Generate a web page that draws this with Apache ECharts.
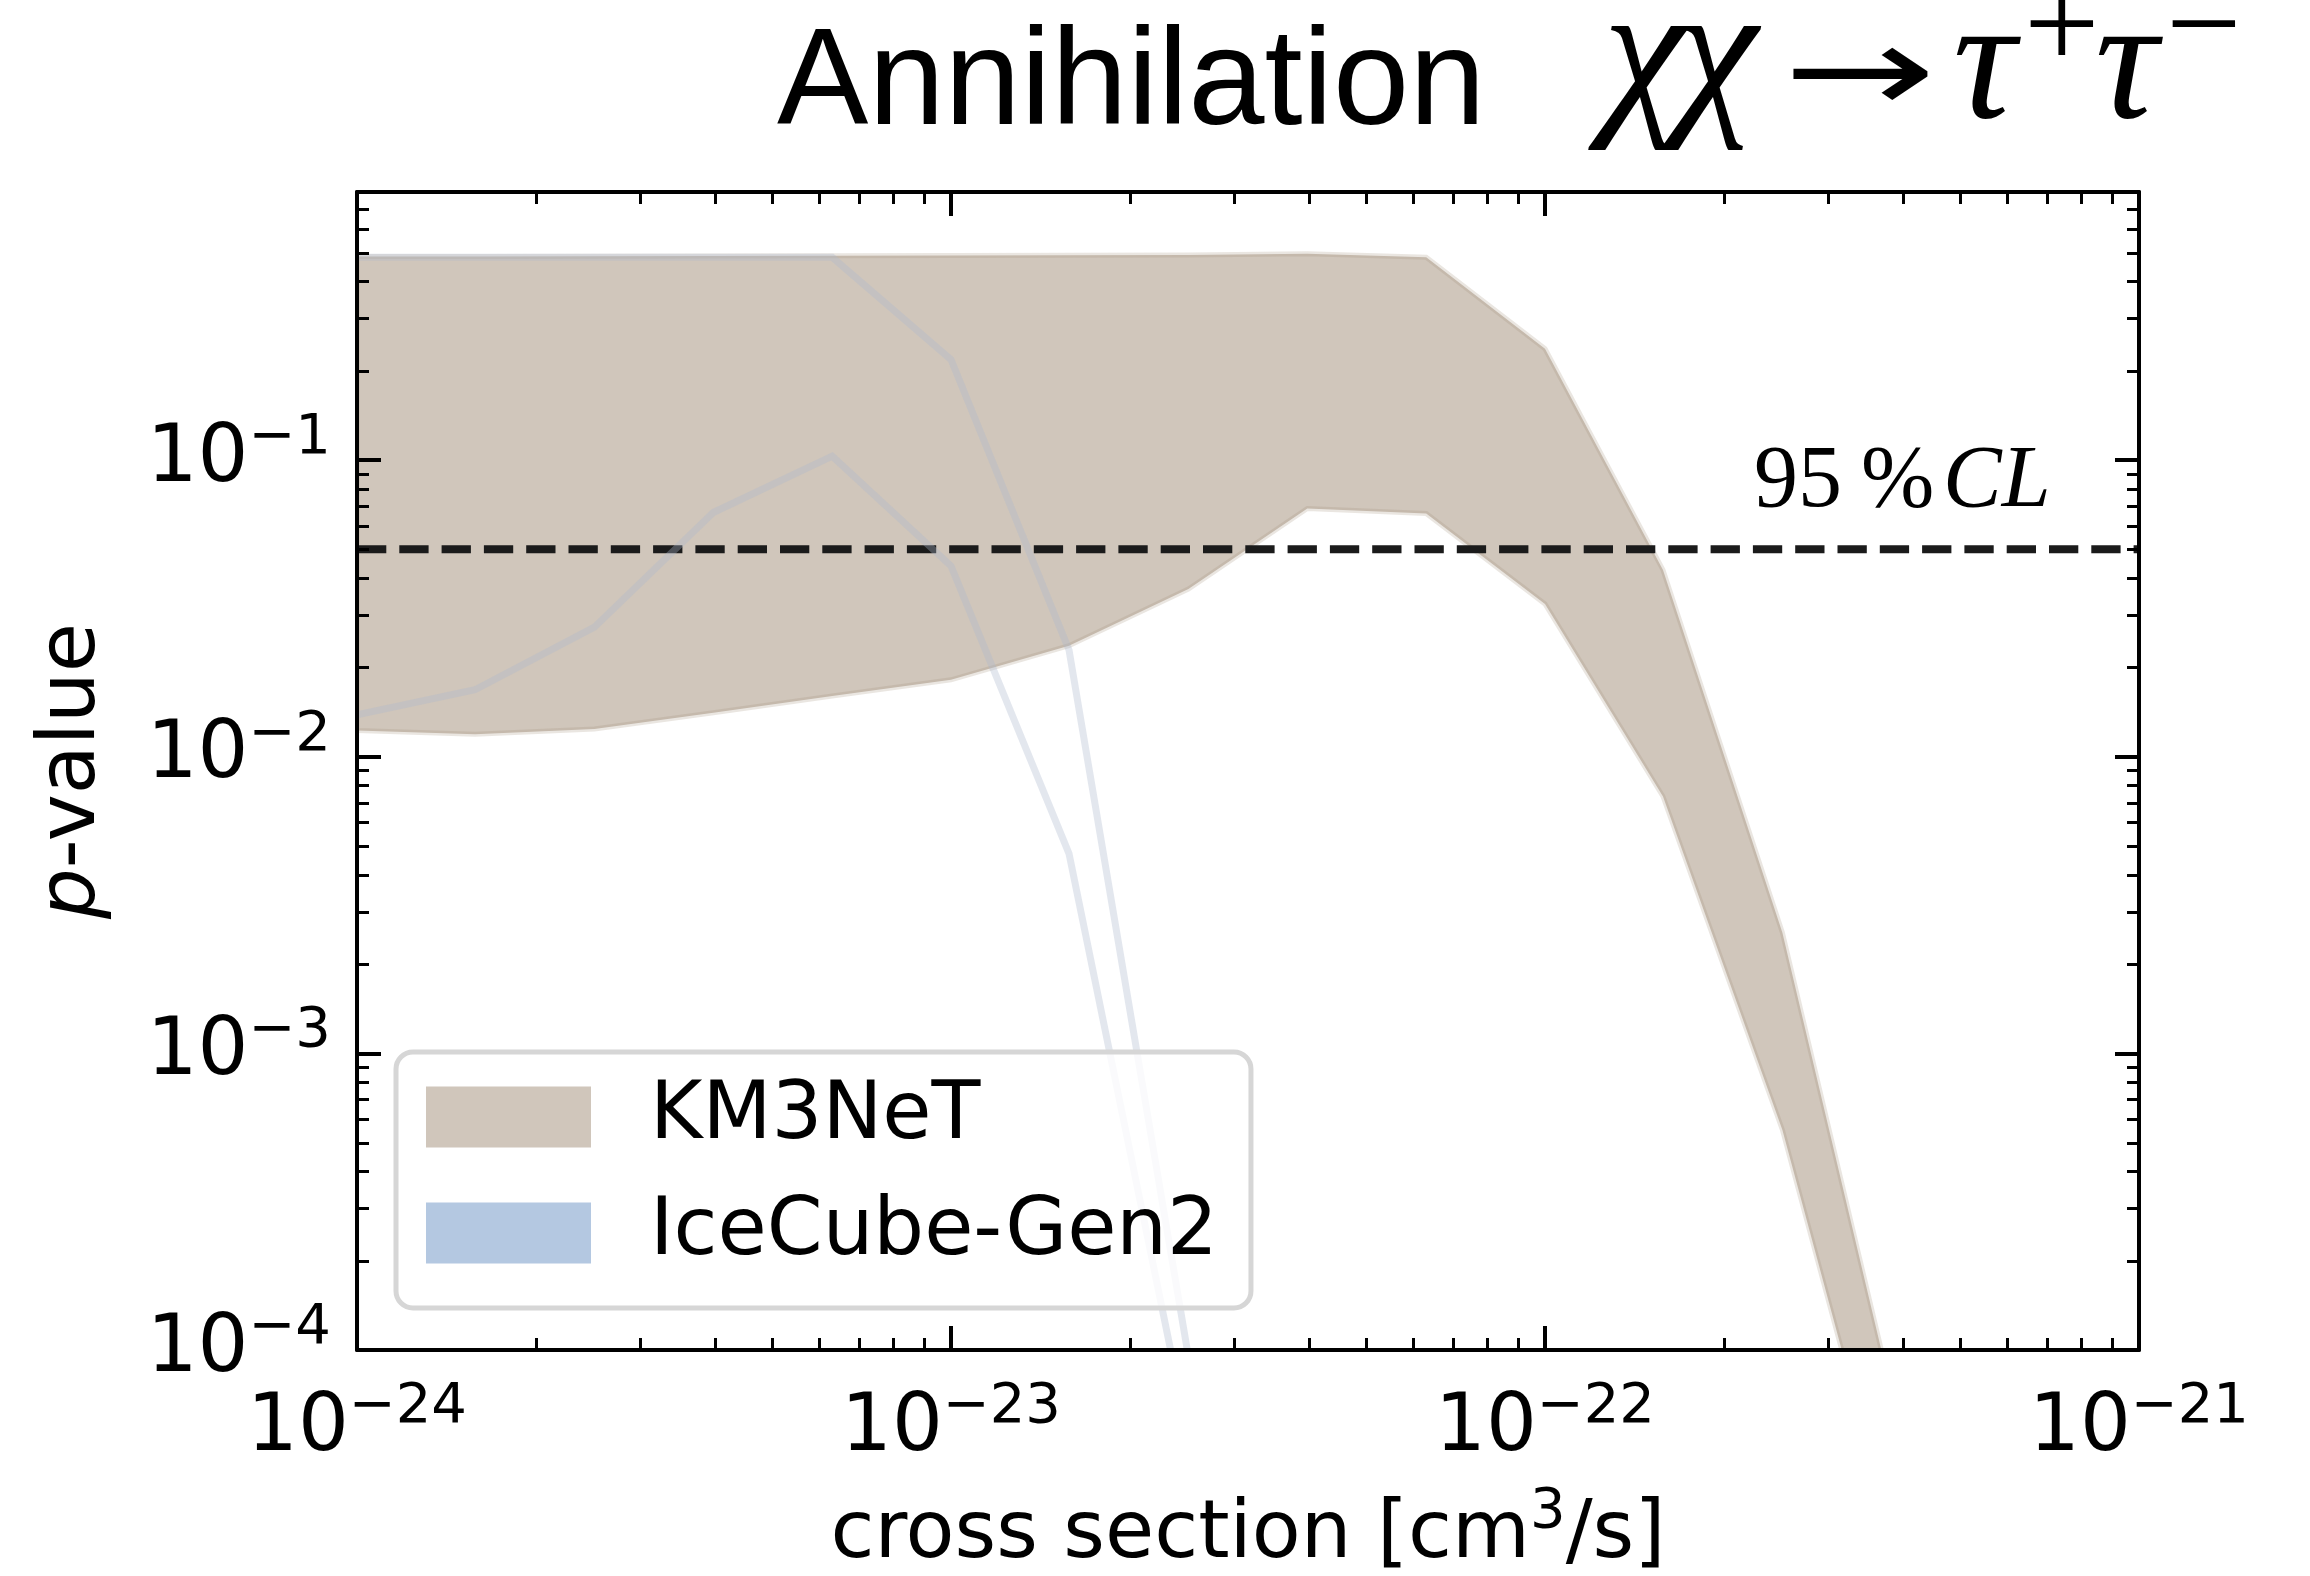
<!DOCTYPE html>
<html><head><meta charset="utf-8">
<script src="https://cdn.jsdelivr.net/npm/echarts@6/dist/echarts.min.js"></script>
<style>html,body{margin:0;padding:0;background:#fff}#chart{width:2310px;height:1576px}</style>
</head><body><div id="chart"></div>
<script>
// ---- data ----
const crossSection = [1.0e-24, 1.58e-24, 2.51e-24, 3.98e-24, 6.31e-24, 1.0e-23, 1.58e-23, 2.51e-23, 3.98e-23, 6.31e-23, 1.0e-22, 1.58e-22, 2.51e-22, 3.98e-22];
const km3netUpper = [0.485, 0.485, 0.486, 0.487, 0.488, 0.489, 0.490, 0.491, 0.495, 0.482, 0.237, 0.0426, 0.00255, 0.000052];
const km3netLower = [0.01225, 0.0119, 0.0124, 0.01406, 0.0160, 0.01815, 0.02366, 0.0367, 0.0686, 0.066, 0.0327, 0.00734, 0.000552, 0.000018];
const icecubeCrossSection = [1.0e-24, 1.58e-24, 2.51e-24, 3.98e-24, 6.31e-24, 1.0e-23, 1.58e-23, 2.51e-23];
const icecubeUpper = [0.482, 0.482, 0.482, 0.482, 0.482, 0.218, 0.0229, 0.000095];
const icecubeLower = [0.01384, 0.0168, 0.0273, 0.0665, 0.103, 0.0439, 0.00471, 0.000051];
const clLevel = 0.05;
const xRange = [1e-24, 1e-21];
const yRange = [1e-4, 0.8];
const xTickExponents = [-24, -23, -22, -21];
const yTickExponents = [-4, -3, -2, -1];
const minorMultipliers = [2, 3, 4, 5, 6, 7, 8, 9];

const KM3_FILL = '#d0c6bb';
const ICE_COLOR = '#b4c8e1';

function minorTicks(lo, hi) {
  const out = [];
  for (let d = Math.floor(Math.log10(lo)); d <= Math.ceil(Math.log10(hi)); d++) {
    minorMultipliers.forEach(m => { const v = m * Math.pow(10, d); if (v > lo * 1.0001 && v < hi * 0.9999) out.push(v); });
  }
  return out;
}
const xMinor = minorTicks(xRange[0], xRange[1]);
const yMinor = minorTicks(yRange[0], yRange[1]);

function powerText(r) { return '{b|10}{s|' + (r < 0 ? '\u2212' : '') + Math.abs(r) + '}'; }
function expLabel(list) {
  return function (v) {
    const e = Math.log10(v);
    const r = Math.round(e);
    if (Math.abs(e - r) > 1e-6 || list.indexOf(r) < 0) return '';
    return powerText(r);
  };
}
const tickRich = {
  b: { fontFamily: 'DejaVu Sans', fontSize: 80, lineHeight: 50, color: '#000', fill: '#000' },
  s: { fontFamily: 'DejaVu Sans', fontSize: 56, lineHeight: 7, padding: [0, 0, 43, 0], color: '#000', fill: '#000' }
};
const axisCommon = {
  type: 'log', logBase: 10,
  axisLine: { show: true, onZero: false, lineStyle: { color: '#000', width: 4 } },
  axisTick: { show: true, inside: true, length: 24, lineStyle: { color: '#000', width: 4 } },
  minorTick: { show: false }, splitLine: { show: false }, minorSplitLine: { show: false },
  nameMoveOverlap: false,
  z: 10
};

function clipGroup(params, children) {
  const cs = params.coordSys;
  return { type: 'group', clipPath: { type: 'rect', shape: { x: cs.x, y: cs.y, width: cs.width, height: cs.height } }, children: children };
}
function txt(x, y, text, family, size, italic, sx) {
  return { type: 'text', x: x, y: y, z: 30, scaleX: sx || 1, style: { text: text, fontFamily: family, fontSize: size, fontStyle: italic ? 'italic' : 'normal', fill: '#000',
    align: 'left', verticalAlign: 'middle', textAlign: 'left', textVerticalAlign: 'middle' } };
}

const chart = echarts.init(document.getElementById('chart'), null, { renderer: 'canvas' });
chart.setOption({
  backgroundColor: '#ffffff',
  animation: false,
  grid: { left: 357, top: 192, width: 1782, height: 1158, containLabel: false, outerBoundsMode: 'none' },
  xAxis: [
    Object.assign({}, axisCommon, {
      position: 'bottom', min: xRange[0], max: xRange[1],
      axisLabel: { show: false },
      name: '{t|cross section [cm}{s|3}{t|/s]}', nameLocation: 'middle', nameGap: 146,
      nameTextStyle: { rich: {
        t: { fontFamily: 'DejaVu Sans', fontSize: 80, lineHeight: 80, color: '#000' },
        s: { fontFamily: 'DejaVu Sans', fontSize: 56, lineHeight: 56, padding: [0, 0, 47, 0], color: '#000' } } }
    }),
    Object.assign({}, axisCommon, { position: 'top', min: xRange[0], max: xRange[1], axisLabel: { show: false } })
  ],
  yAxis: [
    Object.assign({}, axisCommon, {
      position: 'left', min: yRange[0], max: yRange[1],
      axisLabel: { margin: 26, formatter: expLabel(yTickExponents), rich: tickRich, showMinLabel: true, showMaxLabel: false, hideOverlap: false },
      name: '{i|p}{n|-value}', nameLocation: 'middle', nameRotate: 90, nameGap: 244,
      nameTextStyle: { rich: {
        i: { fontFamily: 'DejaVu Sans', fontStyle: 'italic', fontSize: 80, lineHeight: 80, color: '#000' },
        n: { fontFamily: 'DejaVu Sans', fontSize: 80, lineHeight: 80, color: '#000' } } }
    }),
    Object.assign({}, axisCommon, { position: 'right', min: yRange[0], max: yRange[1], axisLabel: { show: false } })
  ],
  legend: {
    orient: 'vertical', left: 396, top: 1052,
    padding: [25, 33, 35, 30],
    itemWidth: 165, itemHeight: 61, itemGap: 36,
    backgroundColor: 'rgba(255,255,255,0.8)', borderColor: '#d6d6d6', borderWidth: 5, borderRadius: 17,
    formatter: '{n|{name}}',
    textStyle: { color: '#000', rich: { n: { fontFamily: 'DejaVu Sans', fontSize: 80, lineHeight: 61, color: '#000', padding: [0, 0, 0, 54] } } },
    selectedMode: false, z: 20,
    data: [
      { name: 'KM3NeT', icon: 'rect', itemStyle: { color: KM3_FILL, borderWidth: 0 } },
      { name: 'IceCube-Gen2', icon: 'rect', itemStyle: { color: ICE_COLOR, borderWidth: 0 } }
    ]
  },
  series: [
    {
      type: 'custom', name: 'KM3NeT', z: 2, silent: true,
      itemStyle: { color: KM3_FILL },
      data: crossSection.map((x, i) => [x, km3netLower[i], km3netUpper[i]]),
      encode: { x: 0, y: [1, 2] },
      renderItem: function (params, api) {
        if (params.dataIndex !== 0) return null;
        const up = crossSection.map((x, i) => api.coord([x, km3netUpper[i]]));
        const lo = crossSection.map((x, i) => api.coord([x, km3netLower[i]])).reverse();
        return clipGroup(params, [{ type: 'polygon', shape: { points: up.concat(lo) },
          style: { fill: KM3_FILL, stroke: 'rgba(161,141,119,0.22)', lineWidth: 5, lineJoin: 'miter' } }]);
      }
    },
    {
      type: 'line', name: '95 % CL', z: 3, silent: true, symbol: 'none',
      data: [[xRange[0], clLevel], [xRange[1], clLevel]],
      lineStyle: { color: '#1b1b1b', width: 8, type: [29.3, 13], cap: 'butt' }
    },
    {
      type: 'custom', name: 'IceCube-Gen2', z: 4, silent: true,
      itemStyle: { color: ICE_COLOR },
      data: icecubeCrossSection.map((x, i) => [x, icecubeLower[i], icecubeUpper[i]]),
      encode: { x: 0, y: [1, 2] },
      renderItem: function (params, api) {
        if (params.dataIndex !== 0) return null;
        const up = icecubeCrossSection.map((x, i) => api.coord([x, icecubeUpper[i]]));
        const lo = icecubeCrossSection.map((x, i) => api.coord([x, icecubeLower[i]]));
        const st = { fill: null, stroke: 'rgba(172,184,204,0.34)', lineWidth: 7, lineJoin: 'miter' };
        return clipGroup(params, [
          { type: 'polyline', shape: { points: up }, style: st },
          { type: 'polyline', shape: { points: lo }, style: st }
        ]);
      }
    },
    {
      type: 'custom', name: 'xTickLabels', z: 12, silent: true, clip: false,
      data: xTickExponents.map(e => [Math.pow(10, e), yRange[0]]),
      renderItem: function (params, api) {
        const cs = params.coordSys;
        const p = api.coord([api.value(0), api.value(1)]);
        const e = Math.round(Math.log10(api.value(0)));
        return { type: 'text', x: p[0], y: cs.y + cs.height + 54,
          style: { text: powerText(e), rich: tickRich, fill: '#000', align: 'center', verticalAlign: 'top', textAlign: 'center', textVerticalAlign: 'top' } };
      }
    },
    {
      type: 'custom', name: 'xMinor', z: 12, silent: true,
      data: xMinor.map(v => [v, yRange[0]]),
      renderItem: function (params, api) {
        const cs = params.coordSys; const p = api.coord([api.value(0), yRange[0]]);
        const x = Math.round(p[0]) + 0.5; const b = cs.y + cs.height, t = cs.y;
        const ls = { stroke: '#000', lineWidth: 3 };
        return { type: 'group', children: [
          { type: 'line', shape: { x1: x, y1: b, x2: x, y2: b - 12 }, style: ls },
          { type: 'line', shape: { x1: x, y1: t, x2: x, y2: t + 12 }, style: ls } ] };
      }
    },
    {
      type: 'custom', name: 'yMinor', z: 12, silent: true,
      data: yMinor.map(v => [xRange[0], v]),
      renderItem: function (params, api) {
        const cs = params.coordSys; const p = api.coord([xRange[0], api.value(1)]);
        const y = Math.round(p[1]) + 0.5; const l = cs.x, r = cs.x + cs.width;
        const ls = { stroke: '#000', lineWidth: 3 };
        return { type: 'group', children: [
          { type: 'line', shape: { x1: l, y1: y, x2: l + 12, y2: y }, style: ls },
          { type: 'line', shape: { x1: r, y1: y, x2: r - 12, y2: y }, style: ls } ] };
      }
    }
  ],
  graphic: [
    txt(777, 86, 'Annihilation', 'Liberation Sans', 137, false),
    txt(1603, 62, '\u03c7', 'Liberation Serif', 185, true),
    txt(1676, 62, '\u03c7', 'Liberation Serif', 185, true),
    txt(1783, 80, '\u2192', 'DejaVu Sans', 122, false, 1.5),
    txt(1953, 71, '\u03c4', 'Liberation Serif', 175, true),
    txt(2024, 33, '+', 'Liberation Serif', 134, false),
    txt(2095, 71, '\u03c4', 'Liberation Serif', 175, true),
    txt(2166, 33, '\u2212', 'Liberation Serif', 134, false),
    txt(1754, 483, '95', 'Liberation Serif', 88, false),
    txt(1861, 483, '%', 'Liberation Serif', 88, false),
    txt(1943, 483, 'CL', 'Liberation Serif', 88, true)
  ]
});
</script></body></html>
